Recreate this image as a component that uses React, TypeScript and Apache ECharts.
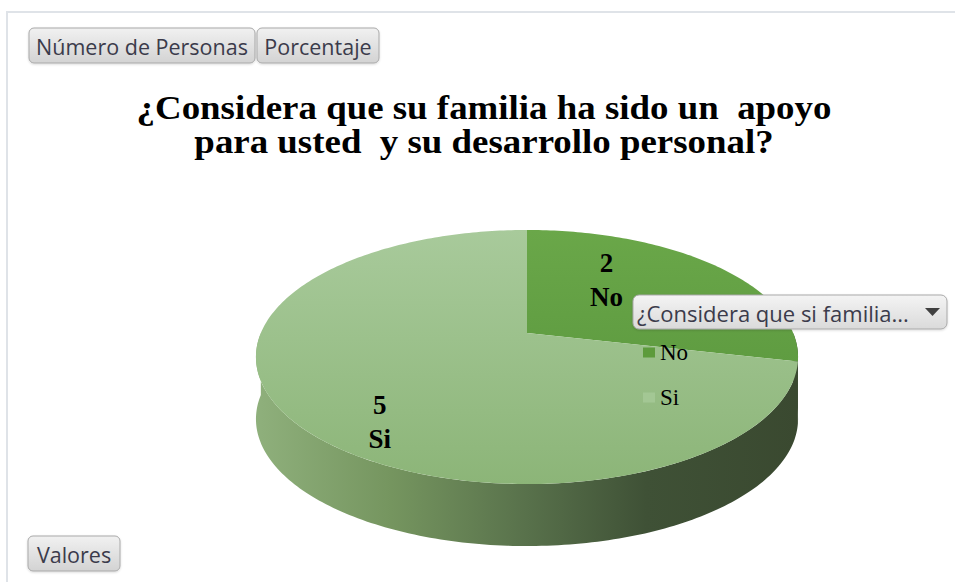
import React, { useEffect, useRef } from "react";
import * as echarts from "echarts";

// ---------- data ----------
const TITLE_LINES = [
  "¿Considera que su familia ha sido un  apoyo",
  "para usted  y su desarrollo personal?",
];
const CATEGORIES = ["No", "Si"];
const VALUES = [2, 5];
const FIELD_BUTTONS = ["Número de Personas", "Porcentaje"];
const VALUE_BUTTON = "Valores";
const FILTER_LABEL = "¿Considera que si familia...";

// ---------- style / layout ----------
const LEGEND_COLORS = ["#5d9b3c", "#a3c794"];
const TOP_GRADIENTS = [
  ["#6aa749", "#55923a"],
  ["#a8ca9b", "#8cb578"],
];
const CX = 527; // projected pie centre x
const VY = 333; // projected pie centre y
const PA = 1408; // perspective scale x
const PB = 648; // perspective scale y
const PD = 5.29; // perspective distance
const DEPTH = 62;
const LABEL_R = 0.6;
const LABEL_NUDGE = [
  [-37, -10],
  [-13, 40],
];
const SERIF = '"Liberation Serif", "Times New Roman", serif';
const UI_FONT = '"Open Sans", "Noto Sans", sans-serif';
const TOP_Z = 100;
const TITLE_X = 484;
const TITLE_Y = [107.5, 141.5];

const TOTAL = VALUES.reduce((a, b) => a + b, 0);

function proj(theta: number, r = 1): number[] {
  const u = r * Math.sin(theta);
  const v = -r * Math.cos(theta);
  const s = PD - v;
  return [CX + (PA * u) / s, VY + (PB * v) / s];
}

function arcPoints(a0: number, a1: number, r = 1): number[][] {
  const pts: number[][] = [];
  const n = Math.max(2, Math.ceil(((a1 - a0) * 180) / Math.PI));
  for (let i = 0; i <= n; i++) pts.push(proj(a0 + ((a1 - a0) * i) / n, r));
  return pts;
}

const topY = proj(0)[1];
const botY = proj(Math.PI)[1];
const leftX = CX - 271;
const rightX = CX + 271;

function makeRender(idx: number) {
  return (params: any, api: any) => {
    const value = api.value(0);
    let before = 0;
    for (let i = 0; i < idx; i++) before += VALUES[i];
    const a0 = (before / TOTAL) * Math.PI * 2;
    const a1 = ((before + value) / TOTAL) * Math.PI * 2;
    const children: any[] = [];

    // side wall (front half only)
    const w0 = Math.max(a0, Math.PI / 2);
    const w1 = Math.min(a1, (Math.PI * 3) / 2);
    if (w1 > w0) {
      const topRim = arcPoints(w0, w1);
      const botRim = topRim.map((p) => [p[0], p[1] + DEPTH]).reverse();
      children.push({
        type: "polygon",
        z2: 1,
        shape: { points: topRim.concat(botRim) },
        style: {
          fill: new echarts.graphic.LinearGradient(
            leftX,
            0,
            rightX,
            0,
            [
              { offset: 0, color: "#8fb07c" },
              { offset: 0.25, color: "#75955f" },
              { offset: 0.5, color: "#58714b" },
              { offset: 0.72, color: "#3f5136" },
              { offset: 1, color: "#3a4930" },
            ],
            true
          ),
        },
      });
    }

    // top face
    const top = [proj(0, 0)].concat(arcPoints(a0, a1));
    const g = TOP_GRADIENTS[idx];
    children.push({
      type: "polygon",
      z2: 10,
      shape: { points: top },
      style: {
        fill: new echarts.graphic.LinearGradient(
          0,
          topY,
          0,
          botY,
          [
            { offset: 0, color: g[0] },
            { offset: 1, color: g[1] },
          ],
          true
        ),
      },
    });

    // label
    const mid = (a0 + a1) / 2;
    const lp = proj(mid, LABEL_R);
    children.push({
      type: "text",
      z2: 20,
      x: lp[0] + LABEL_NUDGE[idx][0],
      y: lp[1] + LABEL_NUDGE[idx][1],
      style: {
        text: `${value}\n${CATEGORIES[idx]}`,
        fill: "#000",
        font: `bold 27px ${SERIF}`,
        align: "center",
        verticalAlign: "middle",
        lineHeight: 34,
      },
    });

    return { type: "group", children };
  };
}

function buttonRect(w: number, h: number, r: number, c0: string, c1: string) {
  return {
    type: "rect",
    z: TOP_Z,
    shape: { x: 0, y: 0, width: w, height: h, r },
    style: {
      fill: new echarts.graphic.LinearGradient(0, 0, 0, 1, [
        { offset: 0, color: c0 },
        { offset: 1, color: c1 },
      ]),
      stroke: "#a9a9a9",
      lineWidth: 1,
      shadowBlur: 2,
      shadowOffsetY: 1,
      shadowColor: "rgba(0,0,0,0.15)",
    },
  };
}

function button(x: number, y: number, w: number, h: number, text: string) {
  return {
    type: "group",
    x,
    y,
    z: TOP_Z,
    children: [
      buttonRect(w, h, 5, "#f1f1f1", "#d3d3d3"),
      {
        type: "text",
        z: TOP_Z + 1,
        x: w / 2,
        y: h / 2 + 1,
        style: {
          text,
          fill: "#3b3b4b",
          font: `21.5px ${UI_FONT}`,
          align: "center",
          verticalAlign: "middle",
        },
      },
    ],
  };
}

export default function App() {
  const ref = useRef<HTMLDivElement>(null);
  useEffect(() => {
    if (!ref.current) return;
    const chart = echarts.init(ref.current, undefined, { renderer: "svg" });
    chart.setOption({
      animation: false,
      backgroundColor: "#ffffff",
      legend: {
        orient: "vertical",
        left: 643,
        top: 341,
        padding: 0,
        itemWidth: 12,
        itemHeight: 10,
        itemGap: 22,
        icon: "rect",
        z: 50,
        data: CATEGORIES,
        textStyle: { fontFamily: SERIF, fontSize: 23, lineHeight: 23, color: "#000" },
      },
      series: CATEGORIES.map((name, i) => ({
        type: "custom",
        name,
        coordinateSystem: "none",
        itemStyle: { color: LEGEND_COLORS[i] },
        data: [[VALUES[i]]],
        renderItem: makeRender(i),
      })),
      graphic: [
        ...TITLE_LINES.map((line, i) => ({
          type: "text",
          z: TOP_Z,
          x: TITLE_X,
          y: TITLE_Y[i],
          scaleX: 1.085,
          style: {
            text: line,
            fill: "#000",
            font: `bold 34px ${SERIF}`,
            align: "center",
            verticalAlign: "middle",
            lineHeight: 33,
          },
        })),
        {
          type: "line",
          z: TOP_Z,
          shape: { x1: 7, y1: 12, x2: 955, y2: 12 },
          style: { stroke: "#dfe3e8", lineWidth: 2 },
        },
        {
          type: "line",
          z: TOP_Z,
          shape: { x1: 7, y1: 11, x2: 7, y2: 582 },
          style: { stroke: "#dfe3e8", lineWidth: 2 },
        },
        button(29, 28, 226, 35, FIELD_BUTTONS[0]),
        button(257, 28, 122, 35, FIELD_BUTTONS[1]),
        button(28, 536, 92, 35, VALUE_BUTTON),
        {
          type: "group",
          x: 633,
          y: 295,
          z: TOP_Z,
          children: [
            buttonRect(314, 34, 6, "#f4f4f4", "#dadada"),
            {
              type: "text",
              z: TOP_Z + 1,
              x: 4,
              y: 18,
              style: {
                text: FILTER_LABEL,
                fill: "#3b3b4b",
                font: `22px ${UI_FONT}`,
                align: "left",
                verticalAlign: "middle",
              },
            },
            {
              type: "polygon",
              z: TOP_Z + 1,
              shape: {
                points: [
                  [292, 13],
                  [307, 13],
                  [299.5, 21],
                ],
              },
              style: { fill: "#404040" },
            },
          ],
        },
      ],
    });
    return () => chart.dispose();
  }, []);
  return (
    <div
      ref={ref}
      style={{ position: "fixed", left: 0, top: 0, width: 955, height: 582 }}
    />
  );
}
